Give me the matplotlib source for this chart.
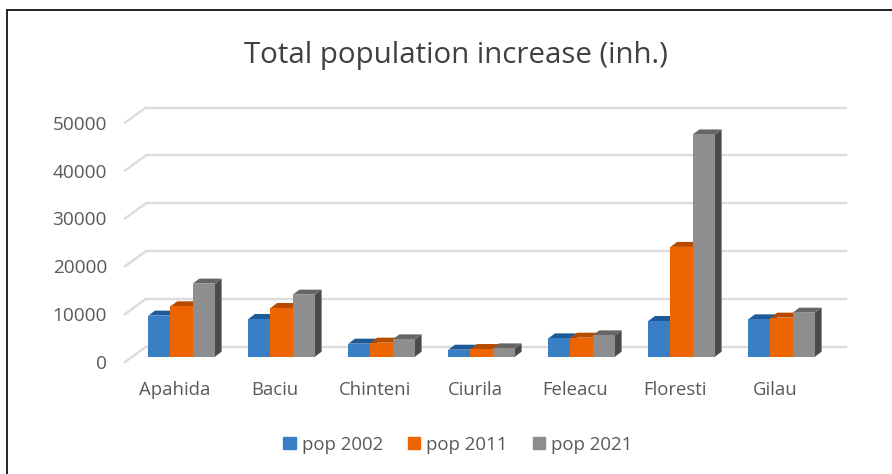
import matplotlib
matplotlib.use("Agg")
import matplotlib.pyplot as plt
from matplotlib.lines import Line2D
from matplotlib.patches import Patch
from matplotlib.transforms import Affine2D

categories = ["Apahida", "Baciu", "Chinteni", "Ciurila", "Feleacu", "Floresti", "Gilau"]
pop_2002 = [8580, 7880, 2720, 1460, 3830, 7460, 7810]
pop_2011 = [10530, 10180, 2930, 1600, 3970, 22940, 8160]
pop_2021 = [15270, 12970, 3620, 1740, 4460, 46440, 9200]
series_names = ["pop 2002", "pop 2011", "pop 2021"]
y_ticks = [0, 10000, 20000, 30000, 40000, 50000]
title = "Total population increase (inh.)"

front = ["#3A7FC6", "#EC6500", "#8E8E8E"]
top = ["#1C5A98", "#B84A00", "#666666"]
side = ["#1C4E80", "#8F3C00", "#4A4A4A"]
text_c = "#595959"
grid_c = "#DCDCDC"

W, H = 892, 474
plt.rcParams["font.family"] = ["Open Sans", "DejaVu Sans"]
fig = plt.figure(figsize=(W / 100, H / 100), dpi=100, facecolor="white")
ax = fig.add_axes([125 / W, 1 - 362 / H, 700 / W, (362 - 122.7) / H])
ax.set_xlim(-0.5, 6.5)
ax.set_ylim(0, 50000)
ax.patch.set_alpha(0)
for s in ax.spines.values():
    s.set_visible(False)

# Back wall grid and the slanted floor/wall links
back = ax.transData + Affine2D().translate(21, 15.2)
bar_plane = ax.transData + Affine2D().translate(6.6, 5.3)
for v in y_ticks:
    ax.plot([-0.5, 6.5], [v, v], transform=back, color=grid_c, lw=1.7, clip_on=False, zorder=1)
    ax.plot([-0.5, -0.29], [v, v + 3173], color=grid_c, lw=1.7, clip_on=False, zorder=1)

# 3D bars
bw = 0.222
dx = 0.067
dy = 5 / 47.9 * 10000
for k, vals in enumerate([pop_2002, pop_2011, pop_2021]):
    for i, v in enumerate(vals):
        x0 = i + (k - 1.5) * bw
        x1 = x0 + bw
        ax.fill([x1, x1 + dx, x1 + dx, x1], [0, dy, v + dy, v], color=side[k], lw=0,
                transform=bar_plane, clip_on=False, zorder=2 + k)
        ax.fill([x0, x1, x1 + dx, x0 + dx], [v, v, v + dy, v + dy], color=top[k], lw=0,
                transform=bar_plane, clip_on=False, zorder=2 + k)
    ax.bar([i + (k - 1) * bw for i in range(len(vals))], vals, width=bw * 1.01, color=front[k],
           transform=bar_plane, clip_on=False, zorder=2 + k, lw=0)

ax.set_xticks(range(len(categories)), categories)
ax.set_yticks(y_ticks, [str(v) for v in y_ticks])
ax.tick_params(axis="x", length=0, pad=14, labelsize=13.3, labelcolor=text_c)
ax.tick_params(axis="y", length=0, pad=13, labelsize=13.7, labelcolor=text_c)

fig.text(455.5 / W, 1 - 55 / H, title, ha="center", va="center", fontsize=21.2, color="#404040")

handles = [Patch(color=c) for c in front]
fig.legend(handles, series_names, loc="center", bbox_to_anchor=(458 / W, 1 - 444.5 / H), ncol=3,
           frameon=False, fontsize=13.4, labelcolor=text_c, handlelength=0.65, handleheight=0.65,
           handletextpad=0.33, columnspacing=1.35, borderpad=0)

# Image frame: left and top edges only
fig.add_artist(Line2D([7 / W, 7 / W], [0, 1 - 10 / H], color="#222222", lw=1.4))
fig.add_artist(Line2D([7 / W, 1], [1 - 10 / H, 1 - 10 / H], color="#222222", lw=1.4))

fig.savefig("out.png", dpi=100)
